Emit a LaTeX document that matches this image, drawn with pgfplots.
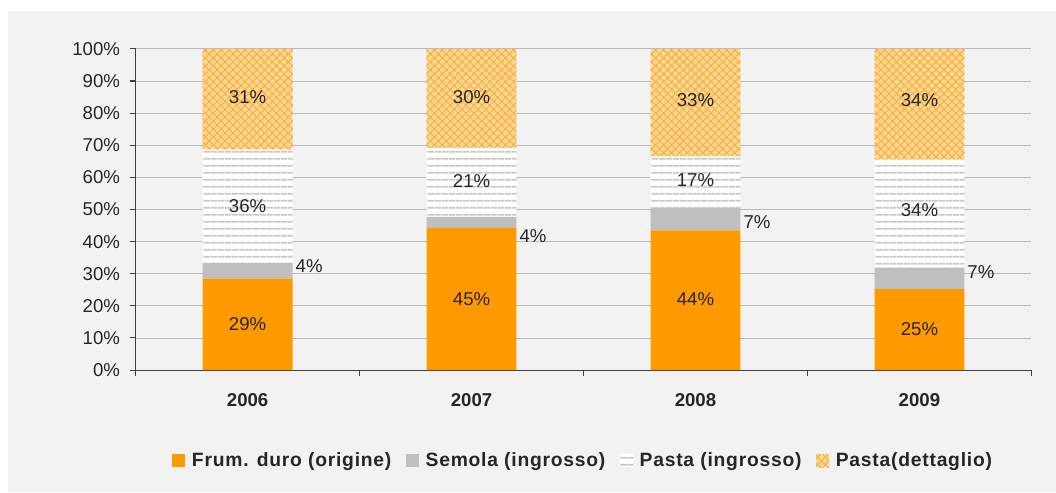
\documentclass[border=0pt]{standalone}
\usepackage{fontspec}
\setmainfont{Liberation Sans}
\newfontfamily\legfont[LetterSpace=4]{Liberation Sans}
\usepackage{pgfplots}
\pgfplotsset{compat=1.18}
\usepackage{pgfplotstable}
\usetikzlibrary{patterns.meta}
\definecolor{bgc}{RGB}{242,242,242}
\definecolor{orng}{RGB}{255,153,0}
\definecolor{gry}{RGB}{191,191,191}
\definecolor{hatchline}{RGB}{200,200,200}
\definecolor{lorng}{RGB}{252,215,150}
\definecolor{dorng}{RGB}{247,180,70}
\definecolor{txt}{RGB}{38,38,38}

\pgfplotstableread{
x a b c d
0 28.5 4.9 35.2 31.4
1 44.3 3.4 21.5 30.8
2 43.5 7.1 15.9 33.5
3 25.2 6.7 33.6 34.5
}\shares

\pgfplotstableread{
x y lab
0 14.2 29
0 51.2 36
0 85.1 31
1 22.0 45
1 59.0 21
1 85.1 30
2 22.0 44
2 59.0 17
2 84.2 33
3 12.7 25
3 49.7 34
3 84.2 34
}\clabels

\pgfplotstableread{
x y lab
0.2134 32.3 4
1.2134 41.6 4
2.2134 46.0 7
3.2134 30.4 7
}\slabels

\begin{document}
\begin{tikzpicture}[x=1pt,y=1pt]
\fill[bgc] (-96,-92) rectangle (692,270);
\useasboundingbox (-102,-90) rectangle (690,278.25);
\begin{axis}[
  at={(0,0)}, anchor=south west,
  scale only axis, width=673.5pt, height=241.5pt,
  ybar stacked, bar width=67.5pt,
  xmin=-0.5, xmax=3.5, ymin=0, ymax=100,
  axis lines*=left,
  axis line style={draw=black!75, line width=0.8pt},
  tick align=outside,
  major tick length=4.5pt,
  tick style={draw=black!75, line width=0.8pt},
  ytick={0,10,...,100},
  yticklabels={0\%,10\%,20\%,30\%,40\%,50\%,60\%,70\%,80\%,90\%,100\%},
  yticklabel style={font=\fontsize{14}{16}\selectfont, text=black!85, xshift=-3.75pt},
  ymajorgrids,
  grid style={draw=gray!55, line width=0.6pt},
  xtick={-0.5,0.5,1.5,2.5,3.5},
  xticklabels={,,,,},
  extra x ticks={0,1,2,3},
  extra x tick labels={2006,2007,2008,2009},
  extra x tick style={major tick length=0pt, grid=none},
  xticklabel style={font=\bfseries\fontsize{14}{16}\selectfont, text=black!85, yshift=-14pt},
  legend style={at={(0.5,-0.2826)}, anchor=center, draw=none, fill=none,
    font=\legfont\bfseries\fontsize{14.5}{17}\selectfont, text=black!85,
    /tikz/every even column/.append style={column sep=9pt},
    /tikz/every odd column/.append style={column sep=3pt}},
  legend columns=4,
  legend image code/.code={\path[#1] (0pt,-4.9pt) rectangle (9.75pt,4.9pt);},
]
\addplot[fill=orng, draw=none] table[x=x,y=a] {\shares};
\addplot[fill=gry, draw=none] table[x=x,y=b] {\shares};
\addplot[fill=white, draw=none,
  postaction={pattern={Lines[angle=0,distance=5.4pt,line width=1.5pt]}, pattern color=hatchline}] table[x=x,y=c] {\shares};
\addplot[fill=lorng, draw=none,
  postaction={pattern={Lines[angle=45,distance=4.2pt,line width=0.9pt]}, pattern color=dorng},
  postaction={pattern={Lines[angle=-45,distance=4.2pt,line width=0.9pt]}, pattern color=dorng}] table[x=x,y=d] {\shares};
\legend{Frum. duro (origine),Semola (ingrosso),Pasta (ingrosso),Pasta(dettaglio)}
\end{axis}
\begin{axis}[
  at={(0,0)}, anchor=south west,
  scale only axis, width=673.5pt, height=241.5pt,
  xmin=-0.5, xmax=3.5, ymin=0, ymax=100,
  hide axis, clip=false,
]
\addplot[mark=none, draw=none, point meta=explicit symbolic,
  nodes near coords={\pgfplotspointmeta\%},
  every node near coord/.append style={anchor=center, inner sep=0pt, font=\fontsize{14}{16}\selectfont, text=txt}]
  table[x=x,y=y,meta=lab] {\clabels};
\addplot[mark=none, draw=none, point meta=explicit symbolic,
  nodes near coords={\pgfplotspointmeta\%},
  every node near coord/.append style={anchor=west, inner sep=0pt, font=\fontsize{14}{16}\selectfont, text=txt}]
  table[x=x,y=y,meta=lab] {\slabels};
\end{axis}
\end{tikzpicture}
\end{document}
